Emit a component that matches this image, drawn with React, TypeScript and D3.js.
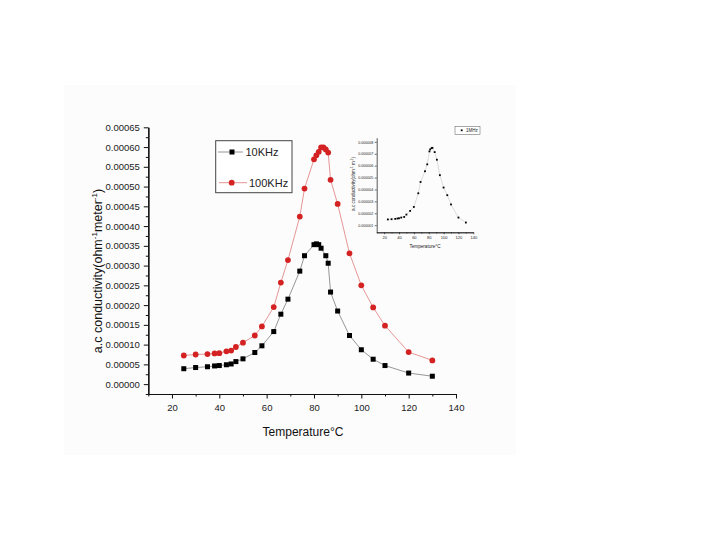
import { useRef, useEffect } from 'react'
import * as d3 from 'd3';

// main plot, 10 KHz series (black squares)
const temps10k = [25, 30, 35, 38, 40, 43, 45, 47, 50, 55, 58, 63, 66, 69, 74, 76, 80, 81, 82, 83, 85, 86, 87, 90, 95, 100, 105, 110, 120, 130];
const sigma10k = [0.000039, 0.000042, 0.000044, 0.000046, 0.000047, 0.000049, 0.000051, 0.000057, 0.000064, 0.00008,
    0.000097, 0.000133, 0.000177, 0.000215, 0.000286, 0.000325, 0.000353, 0.000355, 0.000353, 0.000344,
    0.000325, 0.000306, 0.000233, 0.000185, 0.000123, 0.000087, 0.000063, 0.000047, 0.000028, 0.00002];

// main plot, 100 KHz series (red circles)
const temps100k = [25, 30, 35, 38, 40, 43, 45, 47, 50, 55, 58, 63, 66, 69, 74, 76, 80, 81, 82, 83, 84, 85, 86, 87, 90, 95, 100, 105, 110, 120, 130];
const sigma100k = [0.0000725, 0.000075, 0.000076, 0.0000776, 0.0000784, 0.000083, 0.000085, 0.000094, 0.000105, 0.000123,
    0.000146, 0.000195, 0.000257, 0.000314, 0.000424, 0.000495, 0.000569, 0.000579, 0.000588, 0.000599,
    0.000599, 0.000594, 0.000586, 0.000517, 0.000456, 0.000331, 0.00025, 0.000194, 0.000148, 0.000081, 0.00006];

// inset, 1 MHz series
const temps1M = [25, 30, 35, 38, 40, 43, 47, 50, 55, 60, 66, 69, 75, 78, 81, 82, 84, 85, 88, 91, 95, 100, 105, 110, 120, 130];
const sigma1M = [0.00000148, 0.0000015, 0.00000153, 0.00000156, 0.00000158, 0.00000164, 0.00000169, 0.00000189, 0.0000022, 0.00000253,
    0.00000368, 0.00000463, 0.00000553, 0.00000611, 0.0000072, 0.00000737, 0.00000748, 0.0000075, 0.00000714, 0.0000065,
    0.0000052, 0.00000416, 0.00000352, 0.00000274, 0.00000164, 0.00000122];

const xMajor = [20, 40, 60, 80, 100, 120, 140];
const xMinor = [10, 30, 50, 70, 90, 110, 130];
const yMajor = [0, 0.00005, 0.0001, 0.00015, 0.0002, 0.00025, 0.0003, 0.00035, 0.0004, 0.00045, 0.0005, 0.00055, 0.0006, 0.00065];
const insetYMajor = [0.000001, 0.000002, 0.000003, 0.000004, 0.000005, 0.000006, 0.000007, 0.000008];

const FONT = "'Liberation Sans', Arial, sans-serif";

function App() {
    const ref = useRef(null);

    useEffect(() => {
        const svg = d3.select(ref.current);
        svg.selectAll("*").remove();

        // faint page box behind the figure
        svg.append("rect").attr("x", 64).attr("y", 85).attr("width", 452).attr("height", 370).attr("fill", "#fcfcfc");

        const x = d3.scaleLinear().domain([10, 140]).range([148.3, 456]);
        const y = d3.scaleLinear().domain([-0.000025, 0.00065]).range([394, 127.3]);

        const styleAxis = (g, size, w = 1.2) => {
            g.select(".domain").attr("stroke", "#111").attr("stroke-width", w);
            g.selectAll(".tick line").attr("stroke", "#111").attr("stroke-width", w * 0.85);
            g.selectAll("text").attr("font-family", FONT).attr("font-size", size).attr("fill", "#222");
        };

        // x axis: minor then major
        svg.append("g").attr("transform", "translate(0,394)")
           .call(d3.axisBottom(x).tickValues(xMinor).tickSize(2.5).tickSizeOuter(0).tickFormat(() => ""))
           .call(g => styleAxis(g, 9.5));
        svg.append("g").attr("transform", "translate(0,394)")
           .call(d3.axisBottom(x).tickValues(xMajor).tickSize(4.5).tickSizeOuter(0).tickPadding(6))
           .call(g => styleAxis(g, 9.5));

        // y axis
        const yMinor = yMajor.map(v => v - 0.000025);
        svg.append("g").attr("transform", "translate(148.3,0)")
           .call(d3.axisLeft(y).tickValues(yMinor).tickSize(2.5).tickSizeOuter(0).tickFormat(() => ""))
           .call(g => styleAxis(g, 9.5));
        svg.append("g").attr("transform", "translate(148.3,0)")
           .call(d3.axisLeft(y).tickValues(yMajor).tickSize(4.5).tickSizeOuter(0).tickPadding(4).tickFormat(d3.format(".5f")))
           .call(g => styleAxis(g, 9.5));

        // series lines
        const line = d3.line().x(d => x(d[0])).y(d => y(d[1]));
        const pts10k = temps10k.map((t, i) => [t, sigma10k[i]]);
        const pts100k = temps100k.map((t, i) => [t, sigma100k[i]]);

        svg.append("path").datum(pts100k).attr("d", line)
           .attr("fill", "none").attr("stroke", "#e28a8a").attr("stroke-width", 0.9);
        svg.append("path").datum(pts10k).attr("d", line)
           .attr("fill", "none").attr("stroke", "#8a8a8a").attr("stroke-width", 0.9);

        svg.append("g").selectAll("circle").data(pts100k).join("circle")
           .attr("cx", d => x(d[0])).attr("cy", d => y(d[1])).attr("r", 2.9)
           .attr("fill", "#d42222");
        svg.append("g").selectAll("rect").data(pts10k).join("rect")
           .attr("x", d => x(d[0]) - 2.5).attr("y", d => y(d[1]) - 2.5)
           .attr("width", 5).attr("height", 5).attr("fill", "#000");

        // legend
        const lg = svg.append("g");
        lg.append("rect").attr("x", 215.7).attr("y", 140.7).attr("width", 76.3).attr("height", 52)
          .attr("fill", "#fff").attr("stroke", "#444").attr("stroke-width", 1);
        lg.append("line").attr("x1", 218).attr("x2", 243).attr("y1", 152).attr("y2", 152)
          .attr("stroke", "#8a8a8a").attr("stroke-width", 0.9);
        lg.append("rect").attr("x", 229.5).attr("y", 149.5).attr("width", 5).attr("height", 5).attr("fill", "#000");
        lg.append("text").attr("x", 245.5).attr("y", 156).attr("font-family", FONT).attr("font-size", 11)
          .attr("fill", "#222").text("10KHz");
        lg.append("line").attr("x1", 219).attr("x2", 247).attr("y1", 182.7).attr("y2", 182.7)
          .attr("stroke", "#e28a8a").attr("stroke-width", 0.9);
        lg.append("circle").attr("cx", 231.7).attr("cy", 182.7).attr("r", 2.9).attr("fill", "#d42222");
        lg.append("text").attr("x", 249).attr("y", 186.7).attr("font-family", FONT).attr("font-size", 11)
          .attr("fill", "#222").text("100KHz");

        // axis titles
        svg.append("text").attr("x", 303).attr("y", 436).attr("text-anchor", "middle")
           .attr("font-family", FONT).attr("font-size", 12).attr("fill", "#111").text("Temperature°C");

        const yl = svg.append("text").attr("transform", "translate(101.5,271) rotate(-90)")
           .attr("text-anchor", "middle").attr("font-family", FONT).attr("font-size", 12.5).attr("fill", "#111");
        yl.append("tspan").text("a.c conductivity(ohm");
        yl.append("tspan").attr("dy", -5).attr("font-size", 8).text("-1");
        yl.append("tspan").attr("dy", 5).text("meter");
        yl.append("tspan").attr("dy", -5).attr("font-size", 8).text("-1");
        yl.append("tspan").attr("dy", 5).text(")");

        // ---- inset ----
        const xi = d3.scaleLinear().domain([10, 140]).range([376.7, 473.3]);
        const yi = d3.scaleLinear().domain([0.0000004, 0.00000835]).range([232.3, 137.7]);

        svg.append("g").attr("transform", "translate(0,232.3)")
           .call(d3.axisBottom(xi).tickValues(xMinor).tickSize(1.2).tickSizeOuter(0).tickFormat(() => ""))
           .call(g => styleAxis(g, 4, 0.7));
        svg.append("g").attr("transform", "translate(0,232.3)")
           .call(d3.axisBottom(xi).tickValues(xMajor).tickSize(2).tickSizeOuter(0).tickPadding(2))
           .call(g => styleAxis(g, 4, 0.7));
        svg.append("g").attr("transform", "translate(376.7,0)")
           .call(d3.axisLeft(yi).tickValues(insetYMajor).tickSize(2).tickSizeOuter(0).tickPadding(1.5).tickFormat(d3.format(".6f")))
           .call(g => styleAxis(g, 3.6, 0.7));

        const lineI = d3.line().x(d => xi(d[0])).y(d => yi(d[1]));
        const pts1M = temps1M.map((t, i) => [t, sigma1M[i]]);
        svg.append("path").datum(pts1M).attr("d", lineI)
           .attr("fill", "none").attr("stroke", "#bbb").attr("stroke-width", 0.5);
        svg.append("g").selectAll("rect").data(pts1M).join("rect")
           .attr("x", d => xi(d[0]) - 0.9).attr("y", d => yi(d[1]) - 0.9)
           .attr("width", 1.8).attr("height", 1.8).attr("fill", "#000");

        svg.append("text").attr("x", 425).attr("y", 247.5).attr("text-anchor", "middle")
           .attr("font-family", FONT).attr("font-size", 4.6).attr("fill", "#222").text("Temperature°C");
        const yli = svg.append("text").attr("transform", "translate(355,184) rotate(-90)")
           .attr("text-anchor", "middle").attr("font-family", FONT).attr("font-size", 4.6).attr("fill", "#222");
        yli.append("tspan").text("a.c conductivity(ohm");
        yli.append("tspan").attr("dy", -1.8).attr("font-size", 3).text("-1");
        yli.append("tspan").attr("dy", 1.8).text(" m");
        yli.append("tspan").attr("dy", -1.8).attr("font-size", 3).text("-1");
        yli.append("tspan").attr("dy", 1.8).text(")");

        // inset legend
        svg.append("rect").attr("x", 455).attr("y", 126.7).attr("width", 25).attr("height", 7.6)
           .attr("fill", "#fff").attr("stroke", "#555").attr("stroke-width", 0.5);
        svg.append("rect").attr("x", 460.8).attr("y", 129.4).attr("width", 1.8).attr("height", 1.8).attr("fill", "#000");
        svg.append("text").attr("x", 466).attr("y", 132.2).attr("font-family", FONT).attr("font-size", 4.5)
           .attr("fill", "#222").text("1MHz");
    }, []);

    return (
        <svg ref={ref} width={720} height={540}
             style={{ position: "absolute", left: 0, top: 0, background: "#fff" }} />
    );
}

export default App;
